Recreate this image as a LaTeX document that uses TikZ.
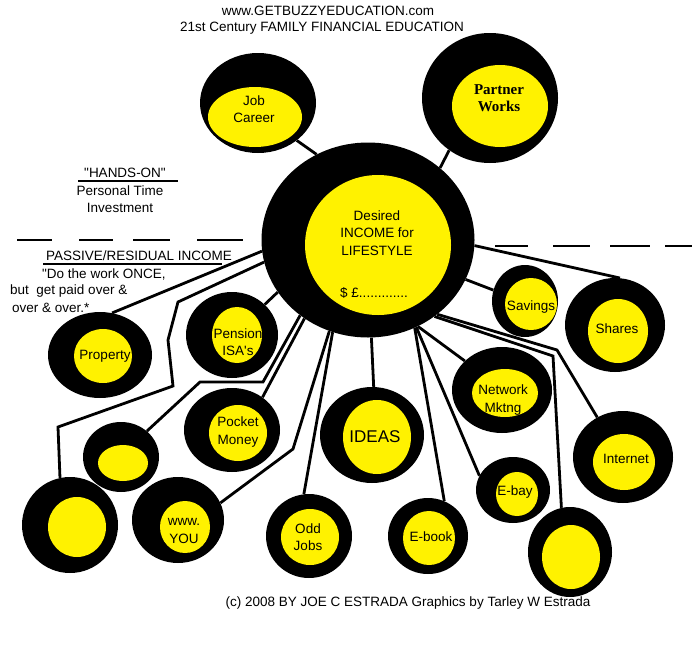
\documentclass[tikz,border=0pt]{standalone}
\usepackage{fontspec}
\setmainfont{Liberation Sans}[Ligatures=TeXOff]
\newfontfamily\pwfont{Liberation Serif}
\usetikzlibrary{shapes.geometric}
\tikzstyle{ring}=[ellipse, fill=black, inner sep=0]
\tikzstyle{core}=[ellipse, fill=yellow, inner sep=0]
\tikzstyle{txt}=[align=center, inner sep=0, font=\fontsize{13.5}{17.5}\selectfont]
\tikzstyle{link}=[line width=2.8pt]
\tikzstyle{rule}=[line width=2pt]
\tikzset{sz/.style 2 args={minimum width=#1pt, minimum height=#2pt}}

\begin{document}
\begin{tikzpicture}[x=1pt, y=-1pt]
\useasboundingbox (0,0) rectangle (692,645);

% header
\node[txt] (site) at (328,11) {www.GETBUZZYEDUCATION.com};
\node[txt] (motto) at (322,28) {21st Century FAMILY FINANCIAL EDUCATION};

% left hand notes
\node[txt] (hands) at (125,173) {"HANDS-ON"};
\draw[rule] (78,181) -- (178,181);
\node[txt] (time1) at (120,191) {Personal Time};
\node[txt] (time2) at (120,208) {Investment};
\foreach \a/\b in {17/52, 79/113, 133/170, 197/243}
    \draw[link] (\a,240) -- (\b,240);
\foreach \a/\b in {495/528, 553/590, 610/650, 665/692}
    \draw[line width=2.4pt] (\a,246) -- (\b,246);
\node[txt] (passive) at (139,256) {PASSIVE/RESIDUAL INCOME};
\draw[rule] (43,264) -- (222,264);
\node[txt, anchor=west] (once1) at (42,274) {"Do the work ONCE,};
\node[txt, anchor=west] (once2) at (10,291) {but\ \ get paid over \&};
\node[txt, anchor=west] (once3) at (12,308) {over \& over.*};

% centre
\node[ring, sz={213}{195}] (goal) at (368,240) {};
\node[core, sz={146}{140}] (goal-in) at (378,245) {};
\node[txt] (goal-t) at (377,233) {Desired\\INCOME for\\LIFESTYLE};
\node[txt] (goal-s) at (374,293) {\$ £.............};

% top
\node[ring, sz={116}{100}] (job) at (258,103) {};
\node[core, sz={94}{60}] (job-in) at (255,117) {};
\node[txt] (job-t) at (254,109) {Job\\Career};
\node[ring, sz={136}{130}] (partner) at (490,98) {};
\node[core, sz={96}{82}] (partner-in) at (500,106) {};
\node[txt, font=\pwfont\bfseries\fontsize{15}{17}\selectfont] (partner-t) at (499,98) {Partner\\Works};

% left
\node[ring, sz={104}{86}] (prop) at (100,355) {};
\node[core, sz={58}{54}] (prop-in) at (103,356) {};
\node[txt] (prop-t) at (105,356) {Property};
\node[ring, sz={92}{86}] (pension) at (232,335) {};
\node[core, sz={50}{56}] (pension-in) at (237,335) {};
\node[txt] (pension-t) at (238,342) {Pension\\ISA's};
\node[ring, sz={96}{84}] (pocket) at (232,430) {};
\node[core, sz={58}{56}] (pocket-in) at (238,433) {};
\node[txt] (pocket-t) at (238,432) {Pocket\\Money};
\node[ring, sz={76}{70}] (blank1) at (121,457) {};
\node[core, sz={50}{36}] (blank1-in) at (123,463) {};
\node[ring, sz={96}{96}] (blank2) at (70,525) {};
\node[core, sz={58}{60}] (blank2-in) at (77,527) {};
\node[ring, sz={92}{86}] (web) at (178,520) {};
\node[core, sz={50}{52}] (web-in) at (185,527) {};
\node[txt] (web-t) at (184,531) {www.\\YOU};

% bottom
\node[ring, sz={86}{84}] (odd) at (309,536) {};
\node[core, sz={58}{56}] (odd-in) at (310,537) {};
\node[txt] (odd-t) at (308,537) {Odd\\Jobs};
\node[ring, sz={104}{96}] (ideas) at (372,435) {};
\node[core, sz={68}{74}] (ideas-in) at (377,437) {};
\node[txt, font=\fontsize{17}{20}\selectfont] (ideas-t) at (375,437) {IDEAS};
\node[ring, sz={80}{76}] (ebook) at (428,536) {};
\node[core, sz={52}{54}] (ebook-in) at (429,538) {};
\node[txt] (ebook-t) at (431,537) {E-book};
\node[ring, sz={74}{66}] (ebay) at (513,490) {};
\node[core, sz={42}{44}] (ebay-in) at (517,494) {};
\node[txt] (ebay-t) at (515,492) {E-bay};
\node[ring, sz={84}{90}] (blank3) at (570,552) {};
\node[core, sz={58}{64}] (blank3-in) at (571,557) {};

% right
\node[ring, sz={100}{86}] (net) at (502,390) {};
\node[core, sz={66}{48}] (net-in) at (505,393) {};
\node[txt] (net-t) at (503,400) {Network\\Mktng};
\node[ring, sz={66}{72}] (save) at (525,301) {};
\node[core, sz={52}{52}] (save-in) at (531,304) {};
\node[txt] (save-t) at (531,307) {Savings};
\node[ring, sz={100}{94}] (shares) at (615,325) {};
\node[core, sz={60}{64}] (shares-in) at (618,331) {};
\node[txt] (shares-t) at (617,329) {Shares};
\node[ring, sz={100}{92}] (inet) at (623,457) {};
\node[core, sz={62}{56}] (inet-in) at (624,462) {};
\node[txt] (inet-t) at (626,459) {Internet};

% links
\draw[link] (goal.121) -- (job.-44);
\draw[link] (goal.45) -- (partner.232);
\draw[link] (goal.-3) -- (shares.84);
\draw[link] (goal.-22) -- (save.161);
\draw[link] (goal.-47) -- (557,350) -- (inet.123);
\draw[link] (goal.-49) -- (553,356) -- (blank3.101);
\draw[link] (goal.-60) -- (net.142);
\draw[link] (goal.-61) -- (ebay.157);
\draw[link] (goal.-62) -- (ebook.65);
\draw[link] (goal.-88) -- (ideas.88);
\draw[link] (goal.249) -- (odd.97);
\draw[link] (goal.247) -- (293,449) -- (web.22);
\draw[link] (goal.231) -- (pocket.47);
\draw[link] (goal.228) -- (263,382) -- (200,382) -- (blank1.45);
\draw[link] (goal.210) -- (pension.43);
\draw[link] (goal.186) -- (prop.74);
\draw[link] (goal.192) -- (178,302) -- (168,340) -- (173,386) -- (58,427) -- (blank2.102);

% footer
\node[txt] (credit) at (408,603) {(c) 2008 BY JOE C ESTRADA Graphics by Tarley W Estrada};
\end{tikzpicture}
\end{document}
